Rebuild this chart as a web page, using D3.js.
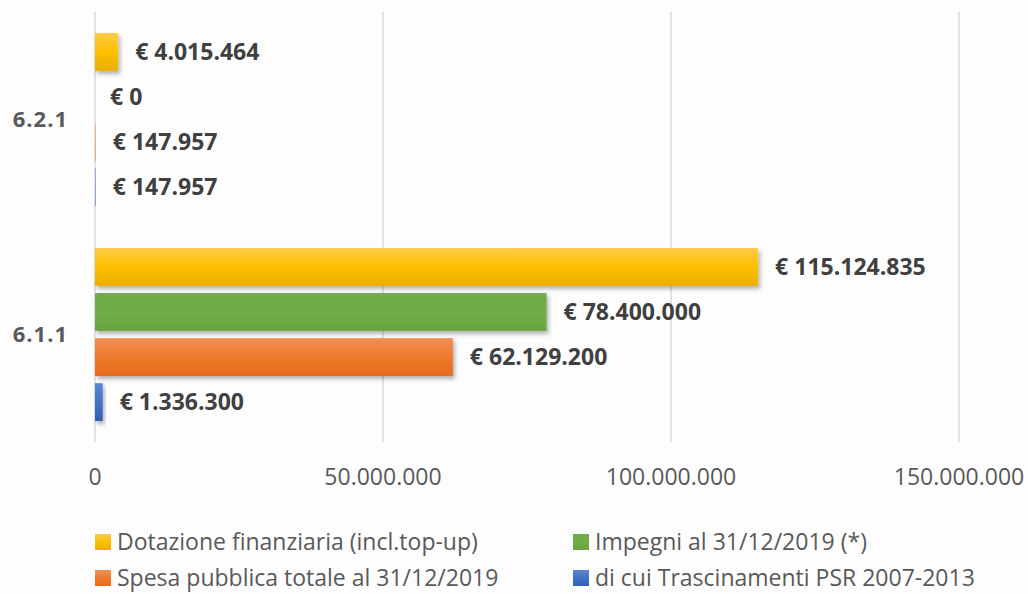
<!DOCTYPE html>
<html>
<head>
<meta charset="utf-8">
<script src="https://cdn.jsdelivr.net/npm/d3@7"></script>
<style>
  body { margin: 0; background: #fdfdfd; }
  svg { display: block; }
</style>
</head>
<body>
<div id="plot"></div>
<script>
// Chart data
var categories = ["6.2.1", "6.1.1"];
var seriesNames = [
  "Dotazione finanziaria (incl.top-up)",
  "Impegni al 31/12/2019 (*)",
  "Spesa pubblica totale al 31/12/2019",
  "di cui Trascinamenti PSR 2007-2013"
];
var dotazione = [4015464, 115124835];
var impegni = [0, 78400000];
var spesa = [147957, 62129200];
var trascinamenti = [147957, 1336300];
var xTicks = [0, 50000000, 100000000, 150000000];

var seriesColors = [
  { top: "#ffcb4d", mid: "#ffc000", bot: "#e8ad00" },
  { top: "#70ad47", mid: "#70ad47", bot: "#6aa443" },
  { top: "#f28f55", mid: "#ee7a2e", bot: "#e86a1a" },
  { top: "#5a85d0", mid: "#4472c4", bot: "#2f5fb8" }
];

var svgWidth = 1028;
var svgHeight = 594;

var chartMargin = { top: 12, right: 69, bottom: 152, left: 95 };
var chartWidth = svgWidth - chartMargin.left - chartMargin.right;
var chartHeight = svgHeight - chartMargin.top - chartMargin.bottom;

var svg = d3.select("#plot")
  .append("svg")
  .attr("width", svgWidth)
  .attr("height", svgHeight);

var defs = svg.append("defs");
seriesColors.forEach(function(c, i) {
  var g = defs.append("linearGradient")
    .attr("id", "grad" + i)
    .attr("x1", 0).attr("y1", 0).attr("x2", 0).attr("y2", 1);
  g.append("stop").attr("offset", "0%").attr("stop-color", c.top);
  g.append("stop").attr("offset", "50%").attr("stop-color", c.mid);
  g.append("stop").attr("offset", "100%").attr("stop-color", c.bot);
});
var shadow = defs.append("filter").attr("id", "shadow")
  .attr("x", "-20%").attr("y", "-20%").attr("width", "150%").attr("height", "160%");
shadow.append("feDropShadow")
  .attr("dx", 2).attr("dy", 3).attr("stdDeviation", 2)
  .attr("flood-color", "#000").attr("flood-opacity", 0.3);

var chartGroup = svg.append("g")
  .attr("transform", `translate(${chartMargin.left}, ${chartMargin.top})`);

// build rows from the named arrays
var allSeries = [dotazione, impegni, spesa, trascinamenti];
var rows = [];
categories.forEach(function(cat, ci) {
  allSeries.forEach(function(vals, si) {
    rows.push({ cat: cat, series: si, value: vals[ci] });
  });
});

var xScale = d3.scaleLinear()
  .domain([0, 150000000])
  .range([0, 864]);

var yBand = d3.scaleBand()
  .domain(categories)
  .range([0, chartHeight])
  .paddingInner(0.195)
  .paddingOuter(0.0975);

var yInner = d3.scaleBand()
  .domain(d3.range(seriesNames.length))
  .range([0, yBand.bandwidth()])
  .paddingInner(0.16);

// gridlines
chartGroup.selectAll(".grid")
  .data(xTicks)
  .enter()
  .append("line")
  .attr("x1", d => xScale(d))
  .attr("x2", d => xScale(d))
  .attr("y1", 0)
  .attr("y2", chartHeight)
  .attr("stroke", "#d9d9d9")
  .attr("stroke-width", 1.5);

// x tick labels
chartGroup.selectAll(".xtick")
  .data(xTicks)
  .enter()
  .append("text")
  .attr("x", d => xScale(d))
  .attr("y", chartHeight + 43)
  .attr("text-anchor", "middle")
  .attr("font-family", "Open Sans, sans-serif")
  .attr("font-size", 23)
  .attr("fill", "#595959")
  .text(d => d3.format(",")(d).replace(/,/g, "."));

// category labels
chartGroup.selectAll(".cat")
  .data(categories)
  .enter()
  .append("text")
  .attr("x", -27)
  .attr("y", d => yBand(d) + yBand.bandwidth() / 2)
  .attr("dy", "0.35em")
  .attr("text-anchor", "end")
  .attr("font-family", "Open Sans, sans-serif")
  .attr("font-weight", "bold")
  .attr("font-size", 22)
  .attr("letter-spacing", 1)
  .attr("fill", "#595959")
  .text(d => d);

// bars (tiny bars get no shadow, they only show as a faint line)
chartGroup.selectAll(".bar")
  .data(rows)
  .enter()
  .append("rect")
  .attr("class", "bar")
  .attr("x", 0)
  .attr("y", d => yBand(d.cat) + yInner(d.series))
  .attr("width", d => xScale(d.value))
  .attr("height", yInner.bandwidth())
  .attr("fill", d => "url(#grad" + d.series + ")")
  .attr("filter", d => xScale(d.value) > 3 ? "url(#shadow)" : null)
  .attr("opacity", d => xScale(d.value) > 3 ? 1 : 0.6);

// value labels
chartGroup.selectAll(".label")
  .data(rows)
  .enter()
  .append("text")
  .attr("x", d => xScale(d.value) + (d.value > 0 ? 17 : 15))
  .attr("y", d => yBand(d.cat) + yInner(d.series) + yInner.bandwidth() / 2)
  .attr("dy", "0.35em")
  .attr("font-family", "Open Sans, sans-serif")
  .attr("font-weight", "bold")
  .attr("font-size", 23)
  .attr("fill", "#404040")
  .text(d => "€ " + d3.format(",")(d.value).replace(/,/g, "."));

// legend
var legendPos = [[95, 542], [573, 542], [95, 578], [573, 578]];
var legend = svg.selectAll(".legend")
  .data(seriesNames)
  .enter()
  .append("g")
  .attr("transform", (d, i) => `translate(${legendPos[i][0]}, ${legendPos[i][1]})`);

legend.append("rect")
  .attr("x", 0)
  .attr("y", -8)
  .attr("width", 16)
  .attr("height", 16)
  .attr("fill", (d, i) => "url(#grad" + i + ")");

legend.append("text")
  .attr("x", 22)
  .attr("y", 0)
  .attr("dy", "0.35em")
  .attr("font-family", "Open Sans, sans-serif")
  .attr("font-size", 23)
  .attr("fill", "#595959")
  .text(d => d);
</script>
</body>
</html>
